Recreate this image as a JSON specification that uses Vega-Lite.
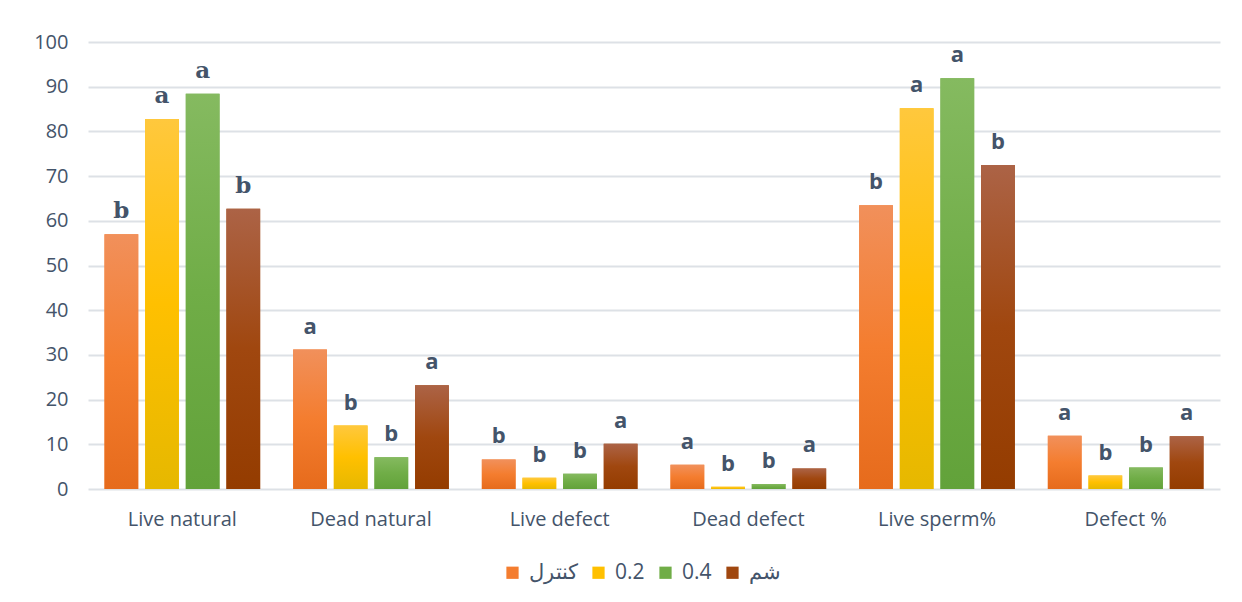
{
  "$schema": "https://vega.github.io/schema/vega-lite/v6.json",
  "width": 1132,
  "height": 447,
  "autosize": {"type": "none"},
  "padding": {"left": 88, "top": 42, "right": 22, "bottom": 113},
  "background": "white",
  "config": {
    "view": {"stroke": null},
    "font": "Open Sans",
    "axis": {"labelColor": "#44546a", "labelFont": "Open Sans", "labelFontSize": 20, "domain": false, "ticks": false, "title": null}
  },
  "data": {
    "values": [
      {"metric": "Live natural", "group": "کنترل", "value": 57.0, "sig": "b"},
      {"metric": "Live natural", "group": "0.2", "value": 82.8, "sig": "a"},
      {"metric": "Live natural", "group": "0.4", "value": 88.4, "sig": "a"},
      {"metric": "Live natural", "group": "شم", "value": 62.7, "sig": "b"},
      {"metric": "Dead natural", "group": "کنترل", "value": 31.2, "sig": "a"},
      {"metric": "Dead natural", "group": "0.2", "value": 14.2, "sig": "b"},
      {"metric": "Dead natural", "group": "0.4", "value": 7.1, "sig": "b"},
      {"metric": "Dead natural", "group": "شم", "value": 23.2, "sig": "a"},
      {"metric": "Live defect", "group": "کنترل", "value": 6.6, "sig": "b"},
      {"metric": "Live defect", "group": "0.2", "value": 2.5, "sig": "b"},
      {"metric": "Live defect", "group": "0.4", "value": 3.4, "sig": "b"},
      {"metric": "Live defect", "group": "شم", "value": 10.1, "sig": "a"},
      {"metric": "Dead defect", "group": "کنترل", "value": 5.4, "sig": "a"},
      {"metric": "Dead defect", "group": "0.2", "value": 0.5, "sig": "b"},
      {"metric": "Dead defect", "group": "0.4", "value": 1.1, "sig": "b"},
      {"metric": "Dead defect", "group": "شم", "value": 4.6, "sig": "a"},
      {"metric": "Live sperm%", "group": "کنترل", "value": 63.5, "sig": "b"},
      {"metric": "Live sperm%", "group": "0.2", "value": 85.2, "sig": "a"},
      {"metric": "Live sperm%", "group": "0.4", "value": 91.9, "sig": "a"},
      {"metric": "Live sperm%", "group": "شم", "value": 72.5, "sig": "b"},
      {"metric": "Defect %", "group": "کنترل", "value": 11.9, "sig": "a"},
      {"metric": "Defect %", "group": "0.2", "value": 3.0, "sig": "b"},
      {"metric": "Defect %", "group": "0.4", "value": 4.8, "sig": "b"},
      {"metric": "Defect %", "group": "شم", "value": 11.8, "sig": "a"}
    ]
  },
  "encoding": {
    "x": {
      "field": "metric", "type": "nominal", "sort": null,
      "scale": {"paddingInner": 0.175, "paddingOuter": 0.0875},
      "axis": {"labelAngle": 0, "labelPadding": 20, "grid": false}
    },
    "xOffset": {
      "field": "group", "type": "nominal",
      "sort": ["کنترل", "0.2", "0.4", "شم"],
      "scale": {"domain": ["کنترل", "0.2", "0.4", "شم"], "paddingInner": 0.17, "paddingOuter": 0}
    },
    "y": {
      "field": "value", "type": "quantitative",
      "scale": {"domain": [0, 100], "nice": false},
      "axis": {"values": [0, 10, 20, 30, 40, 50, 60, 70, 80, 90, 100], "labelPadding": 20, "gridColor": "#dde1e6", "gridWidth": 2}
    }
  },
  "layer": [
    {
      "mark": {"type": "bar"},
      "encoding": {
        "color": {
          "field": "group", "type": "nominal",
          "sort": ["کنترل", "0.2", "0.4", "شم"],
          "scale": {
            "domain": ["کنترل", "0.2", "0.4", "شم"],
            "range": ["#f47d2f", "#ffc000", "#70ad47", "#a0470f"]
          },
          "legend": {
            "orient": "none", "legendX": 414, "legendY": 520, "direction": "horizontal", "title": null,
            "symbolType": "square", "symbolSize": 150, "symbolStrokeWidth": 0,
            "labelFont": "Open Sans", "labelFontSize": 21, "labelColor": "#44546a",
            "columnPadding": 10, "labelOffset": 6
          }
        }
      }
    },
    {
      "transform": [{"filter": "datum.group === 'کنترل'"}],
      "mark": {"type": "bar", "color": {"gradient": "linear", "x1": 0, "y1": 0, "x2": 0, "y2": 1, "stops": [{"offset": 0, "color": "#f1905b"}, {"offset": 0.5, "color": "#f47d2f"}, {"offset": 1, "color": "#e66b1c"}]}},
      "encoding": {}
    },
    {
      "transform": [{"filter": "datum.group === '0.2'"}],
      "mark": {"type": "bar", "color": {"gradient": "linear", "x1": 0, "y1": 0, "x2": 0, "y2": 1, "stops": [{"offset": 0, "color": "#ffc83d"}, {"offset": 0.5, "color": "#ffc000"}, {"offset": 1, "color": "#e6b800"}]}},
      "encoding": {}
    },
    {
      "transform": [{"filter": "datum.group === '0.4'"}],
      "mark": {"type": "bar", "color": {"gradient": "linear", "x1": 0, "y1": 0, "x2": 0, "y2": 1, "stops": [{"offset": 0, "color": "#85ba60"}, {"offset": 0.5, "color": "#70ad47"}, {"offset": 1, "color": "#62a23a"}]}},
      "encoding": {}
    },
    {
      "transform": [{"filter": "datum.group === 'شم'"}],
      "mark": {"type": "bar", "color": {"gradient": "linear", "x1": 0, "y1": 0, "x2": 0, "y2": 1, "stops": [{"offset": 0, "color": "#ac6346"}, {"offset": 0.5, "color": "#a0470f"}, {"offset": 1, "color": "#943c00"}]}},
      "encoding": {}
    },
    {
      "transform": [{"filter": "datum.metric === 'Live natural'"}],
      "mark": {"type": "text", "font": "DejaVu Serif", "fontWeight": "bold", "fontSize": 23, "color": "#44546a", "baseline": "alphabetic", "dy": -16},
      "encoding": {"text": {"field": "sig"}}
    },
    {
      "transform": [{"filter": "datum.metric !== 'Live natural'"}],
      "mark": {"type": "text", "font": "Open Sans", "fontWeight": "bold", "fontSize": 22, "color": "#44546a", "baseline": "alphabetic", "dy": -16},
      "encoding": {"text": {"field": "sig"}}
    }
  ]
}
